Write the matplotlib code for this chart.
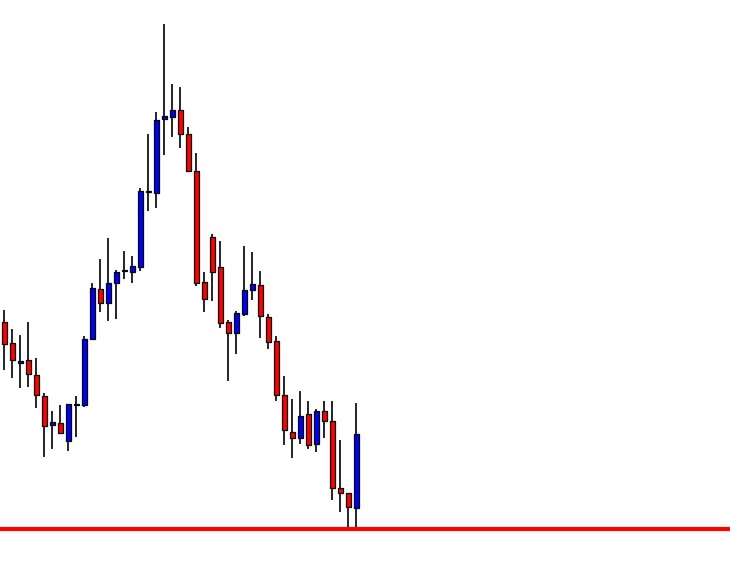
import numpy as np
import matplotlib
matplotlib.use("Agg")
import matplotlib.pyplot as plt

# candle prices (arbitrary units)
opens = [244, 223, 203, 206, 191, 170, 141, 143, 125, 161, 161, 227, 277, 263, 283,
         295, 294, 299, 374.5, 373, 447, 449, 456, 432, 395, 284, 329, 299, 244, 233,
         252, 276, 281, 249, 225, 171, 134, 128, 152, 122, 155, 145, 78, 73, 58]
highs = [256, 237, 231, 244, 208, 173, 155, 161, 162, 170, 230, 283, 307, 328, 296,
         315, 310, 378, 432, 454, 542, 482, 479, 439, 413, 294, 332, 325, 246, 255,
         320, 314, 295, 252, 230, 190, 167, 175, 165, 157, 165, 165, 126, 73, 163]
lows = [196, 188, 178, 179, 158, 109, 117, 133, 115, 129, 159, 226, 254, 245, 247,
        287, 283, 295, 355, 358, 411, 429, 418, 395, 280, 254, 265, 238, 185, 212,
        250, 266, 228, 217, 165, 121, 108, 122, 117, 114, 128, 66, 54, 37, 37]
closes = [222, 206, 205, 192, 171, 140, 144, 133, 162, 161, 227, 278, 263, 283, 294,
          295, 300, 375, 374.5, 446, 450, 456, 432, 395, 283, 267, 294, 243, 233, 253,
          276, 282, 250, 224, 171, 136, 128, 150, 121, 155, 145, 78, 73, 59, 132]
support = 37

fig = plt.figure(figsize=(7.3, 5.66), dpi=100)
ax = fig.add_axes([0, 0, 1, 1])

x = np.arange(len(opens))
o = np.array(opens, dtype=float)
c = np.array(closes, dtype=float)

ax.vlines(x, lows, highs, color="black", linewidth=1.2, zorder=1)

colors = []
for oo, cc in zip(o, c):
    if cc > oo:
        colors.append("#0000ff")
    elif cc < oo:
        colors.append("#ff0000")
    else:
        colors.append("black")
bottom = np.minimum(o, c)
height = np.maximum(np.abs(c - o), 0.8)
ax.bar(x, height, bottom=bottom, width=0.55, color=colors, edgecolor="black",
       linewidth=0.9, zorder=2)

ax.axhline(support, color="#ff0000", linewidth=3, zorder=3)

ax.set_xlim(-0.54, 90.71)
ax.set_ylim(0, 566)
ax.axis("off")

fig.savefig("out.png", dpi=100, facecolor="white")
